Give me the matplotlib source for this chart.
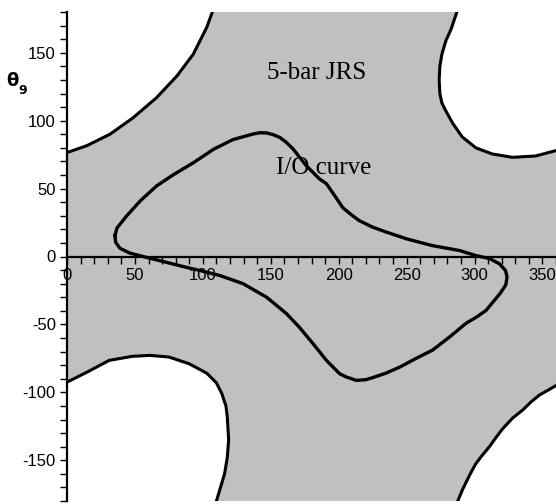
import numpy as np
import matplotlib.pyplot as plt
from matplotlib.ticker import MultipleLocator

plt.rcParams['axes.unicode_minus'] = False

# boundary curves of the 5-bar JRS (white holes in the corners)
tl_x = [0, 14.6, 31.6, 48.5, 66, 81, 93, 98, 103, 107]
tl_y = [76.5, 81.6, 90, 102, 117, 133, 149, 159, 169, 180]

tr_x = [287, 283, 279, 276, 274.5, 274, 274.5, 276, 279, 284, 291, 301, 313, 328, 345, 360]
tr_y = [180, 168, 159, 149, 140, 130, 120, 113, 107, 98, 88, 80, 75.5, 73, 74, 78]

bl_x = [0, 15, 31, 48, 61, 75, 90, 103, 110, 114, 117, 118, 119, 118, 116, 113, 110]
bl_y = [-92.5, -85, -76.5, -73.5, -72.8, -74, -79, -86, -93, -101, -110, -118, -135, -148, -160, -170, -180]

br_x = [360, 354, 347.8, 341.7, 335.5, 328, 320.8, 316, 311, 306, 301, 297.6, 293.9, 291, 287.7]
br_y = [-95, -98.5, -102, -107, -113, -119, -126.7, -133, -140, -146, -152.5, -158.6, -166, -172, -180]

# I/O curve (closed loop)
io_x = [35.3, 36.8, 44, 54, 66, 78, 93, 108, 122, 137, 142, 146.8, 151.7, 156.6, 161.5,
        166.4, 176, 186, 191, 197, 203, 209, 215, 225, 235, 250, 269, 289, 301, 311,
        318.4, 322.8, 324, 323, 319, 308.5, 301.5, 294, 281.6, 269, 257, 245, 235, 225,
        220, 213, 205.6, 200.7, 191, 181, 171, 161.5, 147, 129.6, 112.5, 97.8, 88, 68,
        56, 46.3, 39, 35.8, 35.3]
io_y = [15.4, 21, 30, 41, 52, 60, 69, 79, 86, 90.2, 91.1, 91, 89.7, 87.7, 84,
        79.2, 67, 57, 53.6, 44.9, 36, 31, 26.5, 21.6, 18, 13, 8, 4.4, 0.7, -1.5,
        -5.4, -10.3, -15, -21, -27, -39.7, -44.6, -49, -59.3, -69, -75, -81.4, -85.8, -89.2,
        -90.7, -91.2, -88.7, -86.3, -76.5, -64, -52, -42, -30, -20, -14, -10.3, -8, -3,
        0, 2.5, 6, 10.5, 15.4]

xmax, ymax = 360, 180

fig = plt.figure(figsize=(5.56, 5.04), dpi=100)
ax = fig.add_axes([67/556, 3/504, 489/556, 489/504])
ax.set_xlim(0, xmax)
ax.set_ylim(-ymax, ymax)
ax.set_facecolor('#c0c0c0')

# white holes
ax.fill(tl_x + [0], tl_y + [ymax], color='white', lw=0)
ax.fill(tr_x + [xmax], tr_y + [ymax], color='white', lw=0)
ax.fill(bl_x + [0], bl_y + [-ymax], color='white', lw=0)
ax.fill(br_x + [xmax], br_y + [-ymax], color='white', lw=0)

for xs, ys in [(tl_x, tl_y), (tr_x, tr_y), (bl_x, bl_y), (br_x, br_y)]:
    ax.plot(xs, ys, color='black', lw=2.2, zorder=3, solid_joinstyle='round')
ax.plot(io_x, io_y, color='black', lw=2.4, zorder=3, solid_joinstyle='round')

# Maple style axes through the origin
ax.spines['top'].set_visible(False)
ax.spines['right'].set_visible(False)
ax.spines['bottom'].set_position(('data', 0))
ax.spines['bottom'].set_linewidth(1.6)
ax.spines['left'].set_linewidth(1.6)
ax.spines['bottom'].set_zorder(2.5)

ax.xaxis.set_major_locator(MultipleLocator(50))
ax.xaxis.set_minor_locator(MultipleLocator(10))
ax.yaxis.set_major_locator(MultipleLocator(50))
ax.yaxis.set_minor_locator(MultipleLocator(10))
ax.tick_params(axis='both', which='both', direction='out', length=5, width=1, color='black')
ax.tick_params(axis='both', labelsize=12, pad=3)
for lab in ax.get_xticklabels() + ax.get_yticklabels():
    lab.set_family('Liberation Sans')

ax.text(184, 135, '5-bar JRS', family='Liberation Serif', fontsize=18, ha='center', va='center')
ax.text(189, 65, 'I/O curve', family='Liberation Serif', fontsize=18, ha='center', va='center')

fig.text(12.5/556, 1 - 81/504, 'θ', family='DejaVu Sans', fontweight='bold', fontsize=13,
         ha='center', va='center')
fig.text(23/556, 1 - 91/504, '9', family='DejaVu Sans', fontweight='bold', fontsize=9,
         ha='center', va='center')

fig.savefig('out.png', dpi=100)
